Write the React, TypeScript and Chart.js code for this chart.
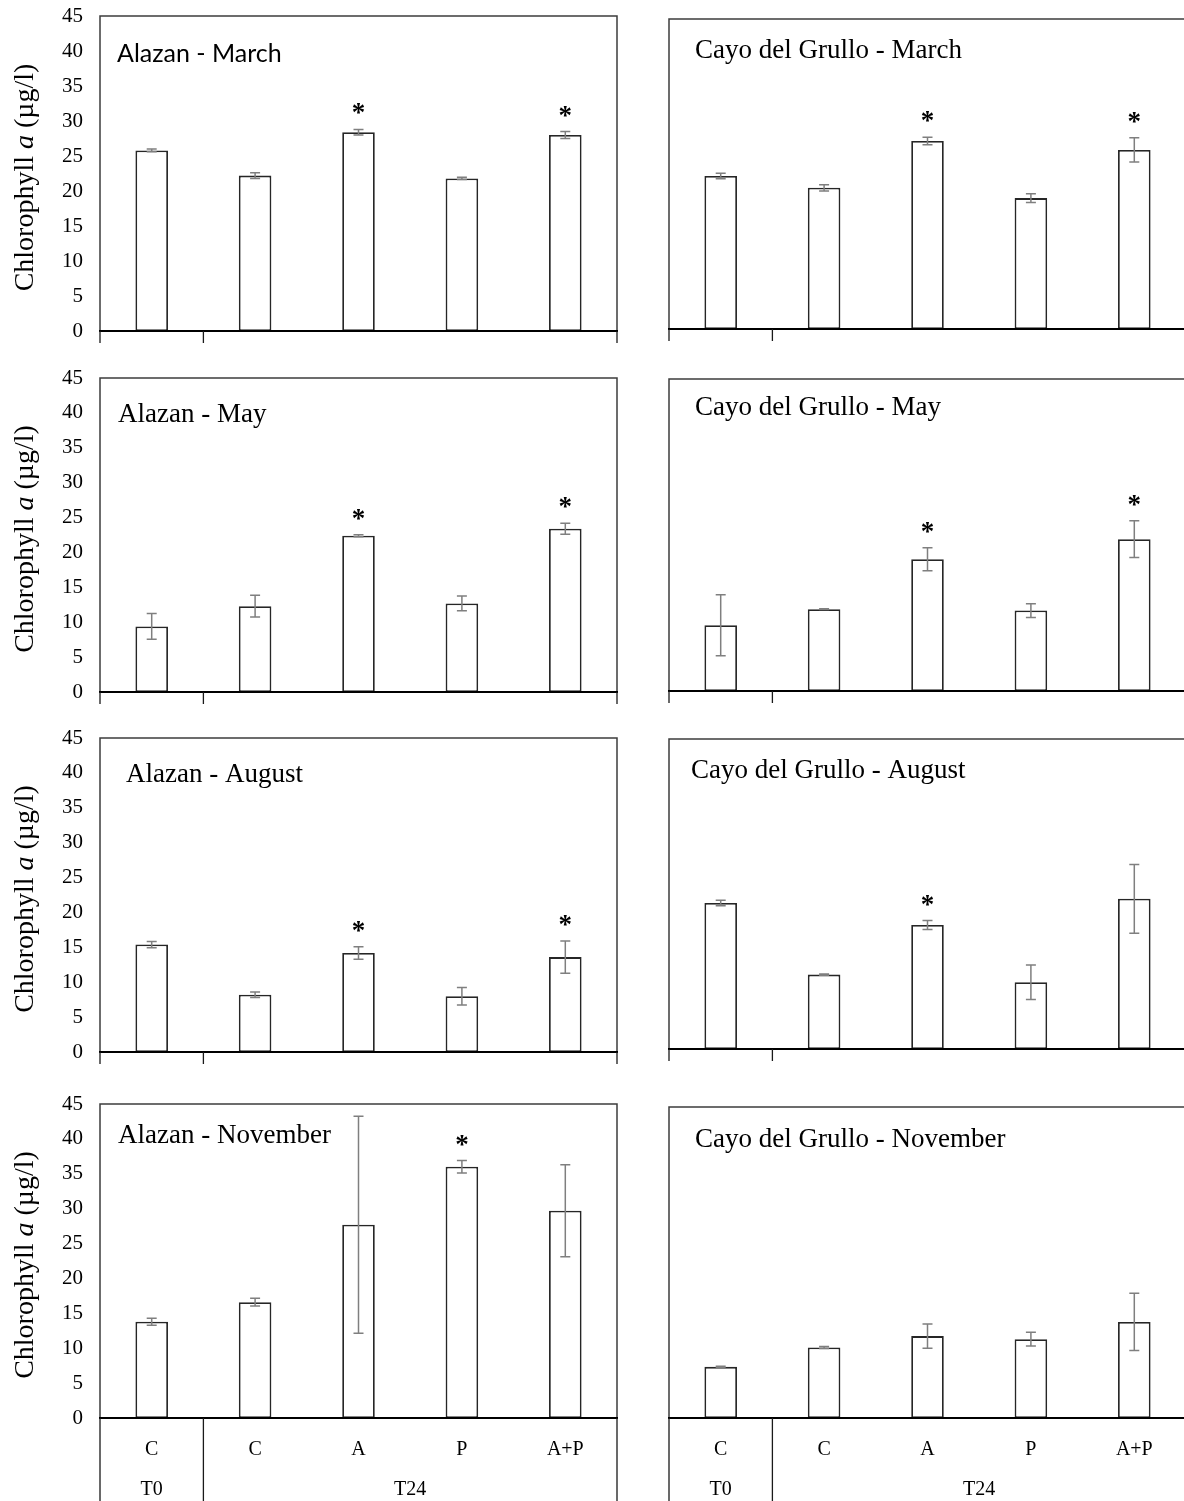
import React, { useEffect, useRef } from 'react';
import { Chart, registerables } from 'chart.js';

Chart.register(...registerables);

// ---------- data ----------
const categories = ['C', 'C', 'A', 'P', 'A+P'];
const timeGroups = ['T0', 'T24'];
const timeGroupSpans = [1, 4];
const yTickValues = [0, 5, 10, 15, 20, 25, 30, 35, 40, 45];

const alazanMarch = [25.8, 22.2, 28.4, 21.8, 28.0];
const alazanMarchErr = [0.2, 0.4, 0.4, 0.15, 0.5];
const alazanMarchSig = [false, false, true, false, true];

const cayoMarch = [22.2, 20.5, 27.3, 19.0, 26.0];
const cayoMarchErr = [0.4, 0.45, 0.55, 0.65, 1.75];
const cayoMarchSig = [false, false, true, false, true];

const alazanMay = [9.4, 12.3, 22.4, 12.7, 23.4];
const alazanMayErr = [1.85, 1.55, 0.15, 1.05, 0.8];
const alazanMaySig = [false, false, true, false, true];

const cayoMay = [9.5, 11.8, 19.0, 11.6, 21.9];
const cayoMayErr = [4.4, 0.05, 1.65, 1.0, 2.65];
const cayoMaySig = [false, false, true, false, true];

const alazanAugust = [15.4, 8.2, 14.2, 8.0, 13.6];
const alazanAugustErr = [0.45, 0.4, 0.9, 1.25, 2.3];
const alazanAugustSig = [false, false, true, false, true];

const cayoAugust = [21.2, 10.8, 18.0, 9.7, 21.8];
const cayoAugustErr = [0.4, 0.1, 0.65, 2.5, 5.0];
const cayoAugustSig = [false, false, true, false, false];

const alazanNovember = [13.8, 16.6, 27.7, 36.0, 29.7];
const alazanNovemberErr = [0.5, 0.55, 15.55, 0.9, 6.6];
const alazanNovemberSig = [false, false, false, true, false];

const cayoNovember = [7.4, 10.2, 11.85, 11.4, 13.9];
const cayoNovemberErr = [0.1, 0.15, 1.75, 1.0, 4.15];
const cayoNovemberSig = [false, false, false, false, false];

const panelTitles = [
  'Alazan - March', 'Cayo del Grullo - March',
  'Alazan - May', 'Cayo del Grullo - May',
  'Alazan - August', 'Cayo del Grullo - August',
  'Alazan - November', 'Cayo del Grullo - November',
];

// ---------- layout / style ----------
const SERIF = '"Liberation Serif", "Times New Roman", serif';
const SANS = 'Lato, "Open Sans", sans-serif';

const leftTops = [16, 378, 738, 1104];
const leftBottoms = [331, 692, 1052, 1418];
const rightTops = [19, 379, 739, 1107];
const rightBottoms = [329, 691, 1049, 1418];
const LEFT_X0 = 100;
const LEFT_X1 = 617;
const RIGHT_X0 = 669;
const RIGHT_X1 = 1186;
const PAGE_H = 1501;

type PanelDef = {
  col: number;
  row: number;
  title: string;
  titleFont: string;
  titleDx: number;
  titleDy: number;
  values: number[];
  err: number[];
  sig: boolean[];
};

const panels: PanelDef[] = [
  { col: 0, row: 0, title: panelTitles[0], titleFont: `25px ${SANS}`, titleDx: 17, titleDy: 46, values: alazanMarch, err: alazanMarchErr, sig: alazanMarchSig },
  { col: 1, row: 0, title: panelTitles[1], titleFont: `27px ${SERIF}`, titleDx: 26, titleDy: 39, values: cayoMarch, err: cayoMarchErr, sig: cayoMarchSig },
  { col: 0, row: 1, title: panelTitles[2], titleFont: `27px ${SERIF}`, titleDx: 18, titleDy: 44, values: alazanMay, err: alazanMayErr, sig: alazanMaySig },
  { col: 1, row: 1, title: panelTitles[3], titleFont: `27px ${SERIF}`, titleDx: 26, titleDy: 36, values: cayoMay, err: cayoMayErr, sig: cayoMaySig },
  { col: 0, row: 2, title: panelTitles[4], titleFont: `27px ${SERIF}`, titleDx: 26, titleDy: 44, values: alazanAugust, err: alazanAugustErr, sig: alazanAugustSig },
  { col: 1, row: 2, title: panelTitles[5], titleFont: `27px ${SERIF}`, titleDx: 22, titleDy: 39, values: cayoAugust, err: cayoAugustErr, sig: cayoAugustSig },
  { col: 0, row: 3, title: panelTitles[6], titleFont: `27px ${SERIF}`, titleDx: 18, titleDy: 39, values: alazanNovember, err: alazanNovemberErr, sig: alazanNovemberSig },
  { col: 1, row: 3, title: panelTitles[7], titleFont: `27px ${SERIF}`, titleDx: 26, titleDy: 40, values: cayoNovember, err: cayoNovemberErr, sig: cayoNovemberSig },
];

function geometry(p: PanelDef) {
  const isLeft = p.col === 0;
  const top = isLeft ? leftTops[p.row] : rightTops[p.row];
  const bottom = isLeft ? leftBottoms[p.row] : rightBottoms[p.row];
  const last = p.row === 3;
  const padTop = 14;
  const padBottom = last ? PAGE_H - bottom : 14;
  const canvasTop = top - padTop;
  const height = bottom + padBottom - canvasTop;
  if (isLeft) {
    return { left: 0, top: canvasTop, width: 640, height, padding: { top: padTop, bottom: padBottom, left: 0, right: 640 - LEFT_X1 } };
  }
  const cl = RIGHT_X0 - 4;
  const padR = 6;
  return { left: cl, top: canvasTop, width: RIGHT_X1 - cl + padR, height, padding: { top: padTop, bottom: padBottom, left: 4, right: padR } };
}

function makePlugin(p: PanelDef) {
  return {
    id: 'panelDecor',
    afterDatasetsDraw(chart: any) {
      const { ctx, chartArea: a, scales } = chart;
      const x = scales.x;
      const y = scales.y;
      ctx.save();

      // error bars and significance marks
      p.values.forEach((v, i) => {
        const cx = x.getPixelForValue(i);
        const yt = y.getPixelForValue(v + p.err[i]);
        const yb = y.getPixelForValue(v - p.err[i]);
        ctx.strokeStyle = '#7f7f7f';
        ctx.lineWidth = 1.5;
        ctx.beginPath();
        ctx.moveTo(cx, yt); ctx.lineTo(cx, yb);
        ctx.moveTo(cx - 5, yt); ctx.lineTo(cx + 5, yt);
        ctx.moveTo(cx - 5, yb); ctx.lineTo(cx + 5, yb);
        ctx.stroke();
        if (p.sig[i]) {
          ctx.fillStyle = '#000';
          ctx.font = `bold 27px ${SERIF}`;
          ctx.textAlign = 'center';
          ctx.textBaseline = 'alphabetic';
          ctx.fillText('*', cx, yt - 8);
        }
      });

      // frame
      ctx.strokeStyle = '#3c3c3c';
      ctx.lineWidth = 1.5;
      ctx.beginPath();
      ctx.moveTo(a.left, a.bottom);
      ctx.lineTo(a.left, a.top);
      ctx.lineTo(a.right, a.top);
      ctx.lineTo(a.right, a.bottom);
      ctx.stroke();

      // zero line
      const y0 = y.getPixelForValue(0);
      ctx.strokeStyle = '#000';
      ctx.lineWidth = 2.2;
      ctx.beginPath();
      ctx.moveTo(a.left - 1, y0);
      ctx.lineTo(a.right + 1, y0);
      ctx.stroke();

      // group separators below the axis
      const last = p.row === 3;
      const sepEnd = last ? chart.height : y0 + 12;
      const bounds: number[] = [];
      let s = 0;
      timeGroupSpans.forEach((n) => { bounds.push(s - 0.5); s += n; });
      bounds.push(s - 0.5);
      ctx.strokeStyle = '#1a1a1a';
      ctx.lineWidth = 1.3;
      ctx.beginPath();
      bounds.forEach((b) => {
        const bx = x.getPixelForValue(b);
        ctx.moveTo(bx, y0);
        ctx.lineTo(bx, sepEnd);
      });
      ctx.stroke();

      if (last) {
        ctx.fillStyle = '#000';
        ctx.font = `20px ${SERIF}`;
        ctx.textAlign = 'center';
        ctx.textBaseline = 'alphabetic';
        categories.forEach((c, i) => {
          ctx.fillText(c, x.getPixelForValue(i), y0 + 37);
        });
        let st = 0;
        timeGroups.forEach((g, gi) => {
          const n = timeGroupSpans[gi];
          ctx.fillText(g, x.getPixelForValue(st + (n - 1) / 2), y0 + 77);
          st += n;
        });
      }

      // panel title
      ctx.fillStyle = '#000';
      ctx.font = p.titleFont;
      ctx.textAlign = 'left';
      ctx.textBaseline = 'alphabetic';
      ctx.fillText(p.title, a.left + p.titleDx, a.top + p.titleDy);

      // y axis title (left column only)
      if (p.col === 0) {
        const segs = [
          { t: 'Chlorophyll ', f: `28px ${SERIF}` },
          { t: 'a', f: `italic 28px ${SERIF}` },
          { t: ' (µg/l)', f: `28px ${SERIF}` },
        ];
        let total = 0;
        segs.forEach((sg) => { ctx.font = sg.f; total += ctx.measureText(sg.t).width; });
        ctx.translate(33, (a.top + a.bottom) / 2 + 4);
        ctx.rotate(-Math.PI / 2);
        let px = -total / 2;
        segs.forEach((sg) => {
          ctx.font = sg.f;
          ctx.fillText(sg.t, px, 0);
          px += ctx.measureText(sg.t).width;
        });
      }
      ctx.restore();
    },
  };
}

function Panel({ p }: { p: PanelDef }) {
  const ref = useRef<HTMLCanvasElement>(null);
  const g = geometry(p);
  useEffect(() => {
    if (!ref.current) return;
    const isLeft = p.col === 0;
    const chart = new Chart(ref.current, {
      type: 'bar',
      data: {
        labels: categories,
        datasets: [
          {
            data: p.values,
            backgroundColor: '#ffffff',
            borderColor: '#262626',
            borderWidth: 1.8,
            borderSkipped: false,
            barPercentage: 0.315,
            categoryPercentage: 1,
          },
        ],
      },
      options: {
        responsive: false,
        animation: false,
        events: [],
        layout: { padding: g.padding },
        plugins: { legend: { display: false }, tooltip: { enabled: false }, title: { display: false } },
        scales: {
          x: { display: false, offset: true },
          y: {
            display: isLeft,
            min: 0,
            max: 45,
            afterBuildTicks: (scale: any) => { scale.ticks = yTickValues.map((v) => ({ value: v })); },
            afterFit: (scale: any) => {
              scale.width = isLeft ? LEFT_X0 : 0;
              scale.paddingTop = 0;
              scale.paddingBottom = 0;
            },
            grid: { display: false, drawTicks: false },
            border: { display: false },
            ticks: {
              color: '#000',
              padding: 17,
              autoSkip: false,
              font: { family: SERIF, size: 21 },
            },
          },
        },
      },
      plugins: [makePlugin(p)],
    } as any);
    return () => chart.destroy();
  }, []);
  return (
    <canvas
      ref={ref}
      width={g.width}
      height={g.height}
      style={{ position: 'absolute', left: g.left, top: g.top, width: g.width, height: g.height }}
    />
  );
}

export default function App() {
  return (
    <div
      style={{
        position: 'fixed',
        left: 0,
        top: 0,
        width: 1184,
        height: PAGE_H,
        overflow: 'hidden',
        background: '#fff',
      }}
    >
      {panels.map((p, i) => (
        <Panel key={i} p={p} />
      ))}
    </div>
  );
}
